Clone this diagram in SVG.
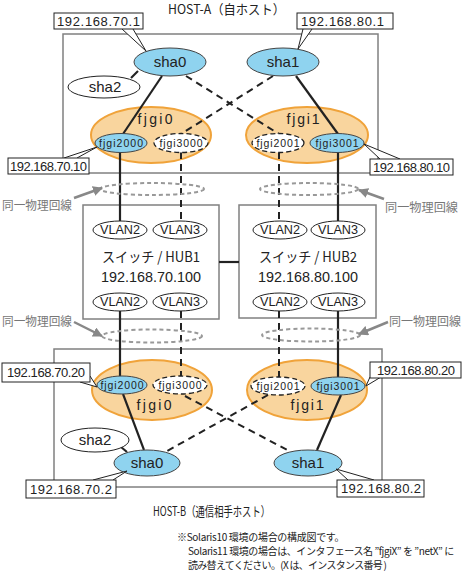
<svg xmlns="http://www.w3.org/2000/svg" width="463" height="576" viewBox="0 0 463 576">
<defs>
<style>
.host{fill:#fff;stroke:#808080;stroke-width:1.5}
.box{fill:#fff;stroke:#222;stroke-width:1}
.wedge{fill:#fff;stroke:#222;stroke-width:1}
.blue{fill:#8fd3ef;stroke:#444;stroke-width:1}
.white{fill:#fff;stroke:#222;stroke-width:1}
.wdash{fill:#fff;stroke:#222;stroke-width:1.3;stroke-dasharray:5,3}
.orange{fill:#f9d59e;stroke:#f0a33a;stroke-width:2}
.solid{stroke:#222;stroke-width:2.2;fill:none}
.dash{stroke:#222;stroke-width:2;stroke-dasharray:7,5;fill:none}
.phys{fill:none;stroke:#999;stroke-width:2;stroke-dasharray:4,3}
.garrow{stroke:#888;stroke-width:2.5;fill:none}
.t{font-family:"Liberation Sans","Noto Sans CJK JP",sans-serif;fill:#222}
.ip{font-size:13px}
.sha{font-size:15px;text-anchor:middle}
.fj{font-size:10.5px;text-anchor:middle}
.grp{font-size:14px;text-anchor:middle}
.vl{font-size:12px;text-anchor:middle}
.jp{font-family:"Noto Sans CJK JP",sans-serif;fill:#222}
.gray{fill:#777;font-size:12px}
.note{font-size:10px}
</style>
<marker id="ga" viewBox="0 0 10 10" refX="9" refY="5" markerWidth="4" markerHeight="4" orient="auto" markerUnits="strokeWidth">
<path d="M0,0 L10,5 L0,10 z" fill="#888"/>
</marker>
</defs>
<rect width="463" height="576" fill="#fff"/>

<g id="host-a">
<rect class="host" x="63" y="34" width="315" height="139"/>
<text class="jp" x="168" y="14" font-size="13" textLength="117" lengthAdjust="spacingAndGlyphs">HOST-A（自ホスト）</text>
</g>
<g id="host-b">
<rect class="host" x="54" y="349" width="328" height="138"/>
<text class="jp" x="153" y="516" font-size="13" textLength="117" lengthAdjust="spacingAndGlyphs">HOST-B（通信相手ホスト）</text>
</g>

<g id="hub1">
<rect class="host" x="83" y="205" width="136" height="114"/>
<text class="jp" x="151" y="262" font-size="14" text-anchor="middle" textLength="98" lengthAdjust="spacingAndGlyphs">スイッチ / HUB1</text>
<text class="t" x="151" y="282" font-size="14" text-anchor="middle" textLength="100" lengthAdjust="spacingAndGlyphs">192.168.70.100</text>
</g>
<g id="hub2">
<rect class="host" x="239" y="205" width="137" height="113"/>
<text class="jp" x="308" y="262" font-size="14" text-anchor="middle" textLength="98" lengthAdjust="spacingAndGlyphs">スイッチ / HUB2</text>
<text class="t" x="308" y="282" font-size="14" text-anchor="middle" textLength="100" lengthAdjust="spacingAndGlyphs">192.168.80.100</text>
</g>

<g id="fjgi0-a"><ellipse class="orange" cx="151" cy="135" rx="60" ry="28"/>
<text class="t grp" x="155" y="124" textLength="35" lengthAdjust="spacing">fjgi0</text></g>
<g id="fjgi1-a"><ellipse class="orange" cx="307" cy="135" rx="61" ry="28"/>
<text class="t grp" x="303" y="124" textLength="33" lengthAdjust="spacing">fjgi1</text></g>
<g id="fjgi0-b"><ellipse class="orange" cx="152" cy="390" rx="60" ry="30"/>
<text class="t grp" x="154" y="410" textLength="35" lengthAdjust="spacing">fjgi0</text></g>
<g id="fjgi1-b"><ellipse class="orange" cx="307" cy="390" rx="60" ry="30"/>
<text class="t grp" x="307" y="410" textLength="33" lengthAdjust="spacing">fjgi1</text></g>

<g id="connectors">
<line class="solid" x1="138" y1="71" x2="131" y2="78"/>
<line class="solid" x1="162" y1="76" x2="123" y2="134"/>
<line class="solid" x1="296" y1="76" x2="338" y2="134"/>
<line class="dash" x1="186" y1="76" x2="279" y2="134"/>
<line class="dash" x1="273" y1="76" x2="181" y2="134"/>
<line class="solid" x1="120" y1="152" x2="120" y2="221"/>
<line class="dash" x1="181" y1="152" x2="181" y2="221"/>
<line class="dash" x1="279" y1="152" x2="279" y2="221"/>
<line class="solid" x1="338" y1="152" x2="338" y2="221"/>
<line class="solid" x1="219" y1="262" x2="239" y2="262"/>
<line class="solid" x1="120" y1="311" x2="120" y2="376"/>
<line class="dash" x1="181" y1="311" x2="181" y2="376"/>
<line class="dash" x1="279" y1="311" x2="279" y2="377"/>
<line class="solid" x1="338" y1="311" x2="338" y2="377"/>
<line class="solid" x1="123" y1="394" x2="144" y2="450"/>
<line class="solid" x1="341" y1="395" x2="317" y2="450"/>
<line class="dash" x1="185" y1="396" x2="291" y2="452"/>
<line class="dash" x1="268" y1="395" x2="167" y2="451"/>
<line class="solid" x1="121" y1="447" x2="127" y2="452"/>
<ellipse class="phys" cx="152" cy="189" rx="52" ry="6"/>
<ellipse class="phys" cx="309" cy="189" rx="49" ry="6"/>
<ellipse class="phys" cx="152" cy="336" rx="50" ry="6.5"/>
<ellipse class="phys" cx="311" cy="335" rx="49" ry="6.5"/>
<line class="garrow" x1="74" y1="198" x2="102" y2="188" marker-end="url(#ga)"/>
<line class="garrow" x1="384" y1="199" x2="359" y2="190" marker-end="url(#ga)"/>
<line class="garrow" x1="74" y1="322" x2="102" y2="336" marker-end="url(#ga)"/>
<line class="garrow" x1="388" y1="322" x2="359" y2="334" marker-end="url(#ga)"/>
<text class="jp gray" x="2" y="210" textLength="70" lengthAdjust="spacingAndGlyphs">同一物理回線</text>
<text class="jp gray" x="385" y="212" textLength="73" lengthAdjust="spacingAndGlyphs">同一物理回線</text>
<text class="jp gray" x="2" y="326" textLength="70" lengthAdjust="spacingAndGlyphs">同一物理回線</text>
<text class="jp gray" x="389" y="326" textLength="72" lengthAdjust="spacingAndGlyphs">同一物理回線</text>
</g>

<g id="sha0-a"><ellipse class="blue" cx="170" cy="62" rx="36" ry="14"/><text class="t sha" x="170" y="67">sha0</text></g>
<g id="sha2-a"><ellipse class="white" cx="104" cy="87" rx="36" ry="11"/><text class="t sha" x="105" y="92">sha2</text></g>
<g id="sha1-a"><ellipse class="blue" cx="283" cy="62" rx="36" ry="14"/><text class="t sha" x="283" y="67">sha1</text></g>

<g id="fjgi2000-a"><ellipse class="blue" cx="121" cy="143" rx="26" ry="9.5"/><text class="t fj" x="121" y="147" textLength="44" lengthAdjust="spacing">fjgi2000</text></g>
<g id="fjgi3000-a"><ellipse class="wdash" cx="181" cy="143" rx="27" ry="9.5"/><text class="t fj" x="181" y="147" textLength="43" lengthAdjust="spacing">fjgi3000</text></g>
<g id="fjgi2001-a"><ellipse class="wdash" cx="278" cy="143" rx="26" ry="9.5"/><text class="t fj" x="278" y="147" textLength="43" lengthAdjust="spacing">fjgi2001</text></g>
<g id="fjgi3001-a"><ellipse class="blue" cx="337" cy="143" rx="27" ry="9.5"/><text class="t fj" x="337" y="147" textLength="43" lengthAdjust="spacing">fjgi3001</text></g>

<g id="vlan2-hub1-top"><ellipse class="white" cx="120" cy="230" rx="27" ry="9"/><text class="t vl" x="120" y="234" textLength="40" lengthAdjust="spacingAndGlyphs">VLAN2</text></g>
<g id="vlan3-hub1-top"><ellipse class="white" cx="180" cy="230" rx="27" ry="9"/><text class="t vl" x="180" y="234" textLength="40" lengthAdjust="spacingAndGlyphs">VLAN3</text></g>
<g id="vlan2-hub2-top"><ellipse class="white" cx="280" cy="230" rx="27" ry="9"/><text class="t vl" x="280" y="234" textLength="40" lengthAdjust="spacingAndGlyphs">VLAN2</text></g>
<g id="vlan3-hub2-top"><ellipse class="white" cx="338" cy="230" rx="27" ry="9"/><text class="t vl" x="338" y="234" textLength="40" lengthAdjust="spacingAndGlyphs">VLAN3</text></g>
<g id="vlan2-hub1-bot"><ellipse class="white" cx="120" cy="302" rx="27" ry="9"/><text class="t vl" x="120" y="306" textLength="40" lengthAdjust="spacingAndGlyphs">VLAN2</text></g>
<g id="vlan3-hub1-bot"><ellipse class="white" cx="180" cy="302" rx="27" ry="9"/><text class="t vl" x="180" y="306" textLength="40" lengthAdjust="spacingAndGlyphs">VLAN3</text></g>
<g id="vlan2-hub2-bot"><ellipse class="white" cx="280" cy="302" rx="27" ry="9"/><text class="t vl" x="280" y="306" textLength="40" lengthAdjust="spacingAndGlyphs">VLAN2</text></g>
<g id="vlan3-hub2-bot"><ellipse class="white" cx="338" cy="302" rx="27" ry="9"/><text class="t vl" x="338" y="306" textLength="40" lengthAdjust="spacingAndGlyphs">VLAN3</text></g>

<g id="fjgi2000-b"><ellipse class="blue" cx="122" cy="385" rx="25" ry="9"/><text class="t fj" x="122" y="389" textLength="43" lengthAdjust="spacing">fjgi2000</text></g>
<g id="fjgi3000-b"><ellipse class="wdash" cx="180" cy="385" rx="27" ry="9"/><text class="t fj" x="180" y="389" textLength="43" lengthAdjust="spacing">fjgi3000</text></g>
<g id="fjgi2001-b"><ellipse class="wdash" cx="278" cy="386" rx="27" ry="9"/><text class="t fj" x="278" y="390" textLength="43" lengthAdjust="spacing">fjgi2001</text></g>
<g id="fjgi3001-b"><ellipse class="blue" cx="338" cy="386" rx="27" ry="9"/><text class="t fj" x="338" y="390" textLength="43" lengthAdjust="spacing">fjgi3001</text></g>

<g id="sha2-b"><ellipse class="white" cx="95" cy="440" rx="34" ry="12"/><text class="t sha" x="95" y="445">sha2</text></g>
<g id="sha0-b"><ellipse class="blue" cx="147" cy="463" rx="33" ry="13"/><text class="t sha" x="147" y="468">sha0</text></g>
<g id="sha1-b"><ellipse class="blue" cx="308" cy="463" rx="34" ry="13"/><text class="t sha" x="308" y="468">sha1</text></g>

<g id="ip-70-1"><polyline class="wedge" points="122,29 146,51 133,29"/><rect class="box" x="54" y="13" width="89" height="16"/><text class="t ip" x="57" y="26" textLength="83" lengthAdjust="spacing">192.168.70.1</text></g>
<g id="ip-80-1"><polyline class="wedge" points="303,29 298,49 312,29"/><rect class="box" x="297" y="13" width="96" height="16"/><text class="t ip" x="301" y="26" textLength="83" lengthAdjust="spacing">192.168.80.1</text></g>
<g id="ip-70-10"><polyline class="wedge" points="64,158 97,147 77,158"/><rect class="box" x="8" y="158" width="81" height="16"/><text class="t ip" x="10" y="171" textLength="77" lengthAdjust="spacing">192.168.70.10</text></g>
<g id="ip-80-10"><polyline class="wedge" points="380,159 364,144 400,159"/><rect class="box" x="370" y="159" width="83" height="16"/><text class="t ip" x="373" y="172" textLength="77" lengthAdjust="spacing">192.168.80.10</text></g>
<g id="ip-70-20"><polyline class="wedge" points="80,382 97,387 90,376"/><rect class="box" x="2" y="363" width="88" height="19"/><text class="t ip" x="7" y="377" textLength="78" lengthAdjust="spacing">192.168.70.20</text></g>
<g id="ip-80-20"><polyline class="wedge" points="370,377 366,386 381,377"/><rect class="box" x="370" y="362" width="91" height="16"/><text class="t ip" x="377" y="375" textLength="78" lengthAdjust="spacing">192.168.80.20</text></g>
<g id="ip-70-2"><polyline class="wedge" points="93,480 127,471 113,480"/><rect class="box" x="26" y="480" width="90" height="18"/><text class="t ip" x="30" y="494" textLength="82" lengthAdjust="spacing">192.168.70.2</text></g>
<g id="ip-80-2"><polyline class="wedge" points="348,480 336,469 374,480"/><rect class="box" x="337" y="480" width="87" height="17"/><text class="t ip" x="341" y="493" textLength="80" lengthAdjust="spacing">192.168.80.2</text></g>

<g id="note">
<text class="jp note" x="177" y="541" letter-spacing="-0.3">※Solaris10 環境の場合の構成図です。</text>
<text class="jp note" x="188" y="555" letter-spacing="-0.4">Solaris11 環境の場合は、インタフェース名 ”fjgiX” を ”netX” に</text>
<text class="jp note" x="188" y="569" letter-spacing="-0.7">読み替えてください。(X は、インスタンス番号 )</text>
</g>
</svg>
